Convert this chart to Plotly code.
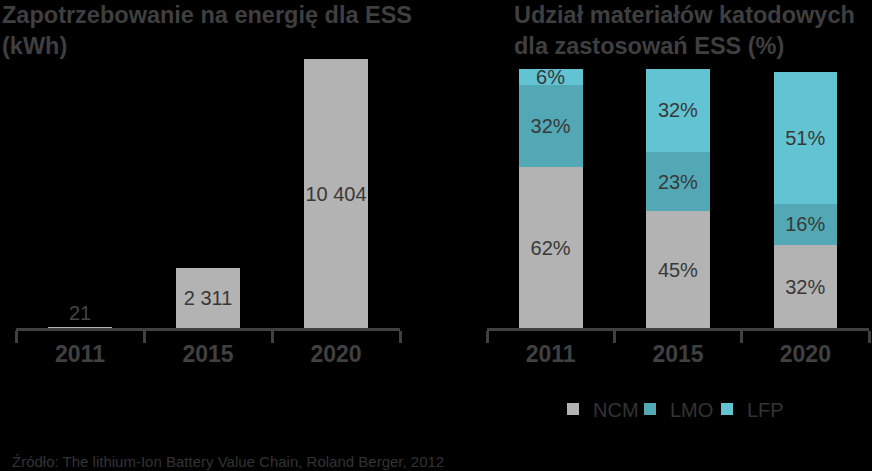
import plotly.graph_objects as go

years = ["2011", "2015", "2020"]
energy_kwh = [21, 2311, 10404]
ncm = [62, 45, 32]
lmo = [32, 23, 16]
lfp = [6, 32, 51]

title_left = "Zapotrzebowanie na energię dla ESS<br>(kWh)"
title_right = "Udział materiałów katodowych<br>dla zastosowań ESS (%)"
source = "Źródło: The lithium-Ion Battery Value Chain, Roland Berger, 2012"

FONT = "Liberation Sans, Arial, sans-serif"
TXT = "#383838"
AX = "#404040"

fig = go.Figure()

fig.add_trace(go.Bar(
    x=years, y=energy_kwh, xaxis="x", yaxis="y",
    marker=dict(color="#b3b3b3", line=dict(width=0)),
    width=0.5,
    text=[f"{v:,}".replace(",", " ") for v in energy_kwh],
    textposition=["outside", "inside", "inside"],
    insidetextanchor="middle", textangle=0,
    textfont=dict(size=20, color=TXT, family=FONT),
    outsidetextfont=dict(size=20, color="#444444", family=FONT),
    showlegend=False, cliponaxis=False,
))

for name, vals, col in [("NCM", ncm, "#b3b3b3"), ("LMO", lmo, "#52a9b5"), ("LFP", lfp, "#62c4d2")]:
    fig.add_trace(go.Bar(
        x=years, y=vals, name=name, xaxis="x2", yaxis="y2",
        marker=dict(color=col, line=dict(width=0)),
        width=0.5,
        text=[f"{v}%" for v in vals],
        textposition="inside", insidetextanchor="middle", textangle=0,
        textfont=dict(size=20, color=TXT, family=FONT),
    ))

xcommon = dict(
    type="category", showline=True, linecolor=AX, linewidth=3,
    ticks="outside", tickson="boundaries", ticklen=12, tickwidth=3, tickcolor=AX,
    tickfont=dict(size=23, color=AX, family=FONT, weight="bold"),
    ticklabelstandoff=3,
    showgrid=False, zeroline=False, fixedrange=True,
)
ycommon = dict(visible=False, showgrid=False, zeroline=False, fixedrange=True)

fig.update_layout(
    width=872, height=471,
    margin=dict(l=0, r=0, t=0, b=0, autoexpand=False),
    paper_bgcolor="black", plot_bgcolor="black",
    barmode="stack",
    uniformtext=dict(minsize=20, mode="show"),
    font=dict(family=FONT, color=TXT),
    xaxis=dict(domain=[16/872, 400/872], anchor="y", **xcommon),
    yaxis=dict(domain=[(471-328)/471, (471-59)/471], range=[0, 10404], anchor="x", **ycommon),
    xaxis2=dict(domain=[487/872, 869/872], anchor="y2", **xcommon),
    yaxis2=dict(domain=[(471-328)/471, (471-69)/471], range=[0, 100], anchor="x2", **ycommon),
    legend=dict(orientation="h", x=553/872, xanchor="left", y=(471-409)/471, yanchor="middle",
                font=dict(size=20, color="#333333", family=FONT), traceorder="normal",
                bgcolor="rgba(0,0,0,0)", itemwidth=30, entrywidth=32, entrywidthmode="pixels"),
    annotations=[
        dict(text=title_left, x=0, y=1.0, xref="paper", yref="paper", xanchor="left", yanchor="top",
             showarrow=False, align="left", font=dict(size=23.5, color="#3f3f3f", family=FONT, weight="bold")),
        dict(text=title_right, x=512/872, y=1.0, xref="paper", yref="paper", xanchor="left", yanchor="top",
             showarrow=False, align="left", font=dict(size=23.5, color="#3f3f3f", family=FONT, weight="bold")),
        dict(text=source, x=10/872, y=(471-461)/471, xref="paper", yref="paper", xanchor="left", yanchor="middle",
             showarrow=False, align="left", font=dict(size=15, color="#333333", family=FONT)),
    ],
)

fig.write_html("out.html", config={"displayModeBar": False},
               post_script="document.body.style.margin='0';document.body.style.background='black';")
